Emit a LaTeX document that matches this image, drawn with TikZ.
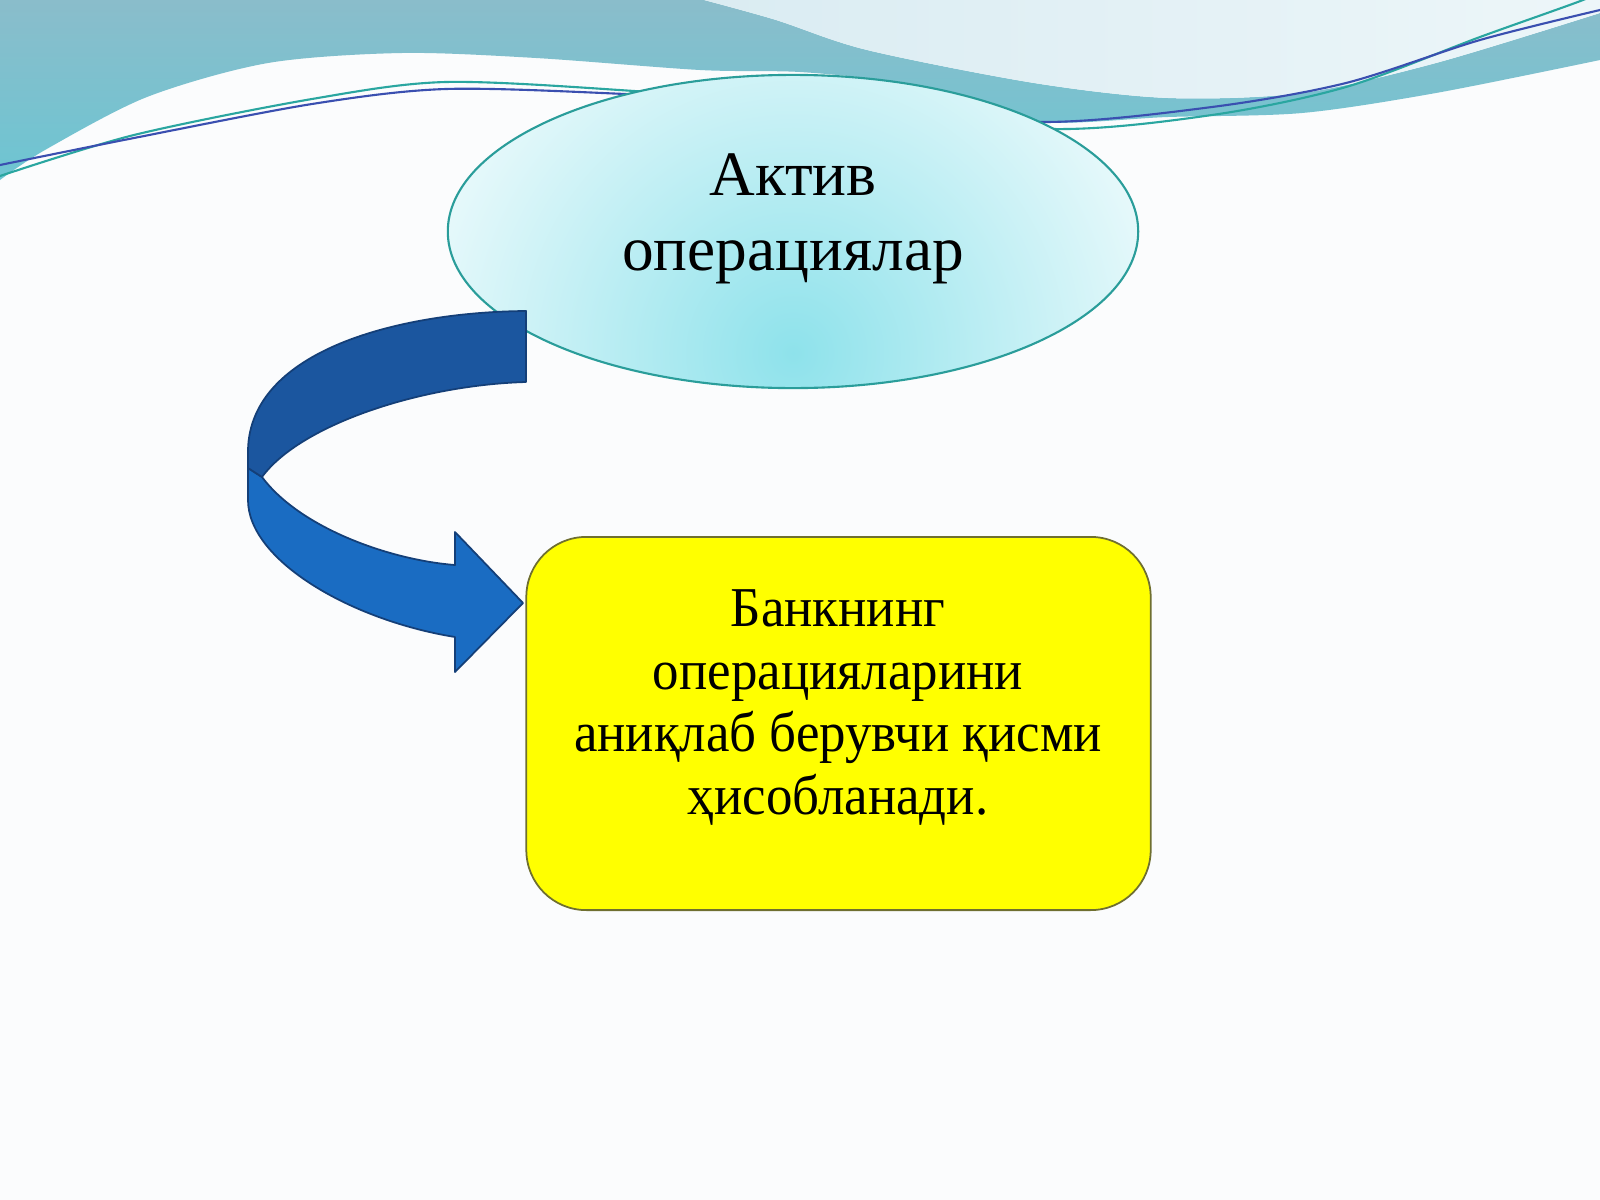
\documentclass[tikz,border=0pt]{standalone}
\usepackage{fontspec}
\setmainfont{Liberation Serif}
\newfontfamily\boxfont[FakeStretch=0.94]{Liberation Serif}
\usetikzlibrary{shapes.geometric}
\definecolor{bgc}{HTML}{FBFCFD}
\definecolor{tealA}{HTML}{8ABDCB}
\definecolor{tealB}{HTML}{6DC5D2}
\definecolor{blobc}{HTML}{DAECF2}
\definecolor{blobd}{HTML}{EDF6F9}
\definecolor{lineteal}{HTML}{2AA6A0}
\definecolor{lineblue}{HTML}{3A4FB0}
\definecolor{elledge}{HTML}{2A9D9A}
\definecolor{ellout}{HTML}{E8F9FB}
\definecolor{ellin}{HTML}{8EE2EB}
\definecolor{arrdark}{HTML}{1B569F}
\definecolor{arrlight}{HTML}{1A6CC2}
\definecolor{arredge}{HTML}{143F78}
\definecolor{boxedge}{HTML}{6F6F30}
\definecolor{boxfill}{HTML}{FFFF00}
\tikzset{
  wavefill/.style={top color=tealA, bottom color=tealB},
  thinline/.style={line width=0.6pt},
  ellbox/.style={ellipse, draw=elledge, line width=0.6pt, inner sep=0pt,
    minimum width=6.9cm, minimum height=3.13cm,
    path picture={
      \fill[ellout] (path picture bounding box.south west) rectangle (path picture bounding box.north east);
      \shade[inner color=ellin, outer color=ellout] ([yshift=0.35cm]path picture bounding box.south) circle[radius=3.8cm];
    }},
  yelbox/.style={draw=boxedge, line width=0.5pt, fill=boxfill, rounded corners=0.6cm,
    minimum width=6.24cm, minimum height=3.73cm, inner sep=0pt},
  bigtext/.style={font=\fontsize{18}{21.34}\selectfont, align=center, text=black},
  boxtext/.style={font=\boxfont\fontsize{16}{17.9}\selectfont, align=center, text=black},
  arrowpart/.style={draw=arredge, line width=0.5pt, line join=round}
}
\begin{document}
\begin{tikzpicture}[x=0.01cm,y=-0.01cm]
\useasboundingbox (0,0) rectangle (1600,1200);
\fill[bgc] (0,0) rectangle (1600,1200);
% teal wave band
\shade[wavefill] (0,0) -- (704,0) -- plot[smooth] coordinates {(704,0) (776,20) (867,50) (1034,83) (1168,98) (1302,93) (1436,63) (1600,13)} -- (1600,60) -- plot[smooth] coordinates {(1600,60) (1436,93) (1302,113) (1168,117) (1043,122) (950,95) (900,82) (800,72) (700,70) (536,58) (402,53) (268,63) (147,97) (45,150) (0,180)} -- cycle;
% light blob
\shade[left color=blobc, right color=blobd] (704,0) -- plot[smooth] coordinates {(704,0) (776,20) (867,50) (1034,83) (1168,98) (1302,93) (1436,63) (1600,13)} -- (1600,0) -- cycle;
% thin lines
\draw[lineteal, thinline] plot[smooth] coordinates {(0,176) (134,135) (312,99) (446,82) (634,91) (840,108) (1052,129) (1212,115) (1346,87) (1480,37) (1583,0) (1600,-10)};
\draw[lineblue, thinline] plot[smooth] coordinates {(0,165) (134,138) (312,104) (446,89) (625,94) (840,106) (1043,122) (1212,107) (1346,83) (1480,40) (1600,10)};
% ellipse
\node[ellbox] (act) at (793,231.5) {};
\node[bigtext] (actT) at (793,218.5) {Актив\\операциялар};
% yellow box
\node[yelbox] (bank) at (838.5,723.5) {};
\node[boxtext] (bankT) at (838,707.5) {Банкнинг\\операцияларини\\аниқлаб берувчи қисми\\ҳисобланади.};
% curved arrow: lower (front) band with head
\filldraw[arrowpart, fill=arrlight] (262,477) -- (248,468) -- (248,500) .. controls (248,560) and (350,620) .. (455,637) -- (455,672) -- (523,603) -- (455,532) -- (455,565) .. controls (390,560) and (300,528) .. (262,477) -- cycle;
% upper (back) band
\filldraw[arrowpart, fill=arrdark] (526,311) .. controls (400,312) and (250,350) .. (248,450) -- (248,468) -- (262,477) .. controls (300,425) and (420,385) .. (526,382) -- cycle;
\end{tikzpicture}
\end{document}
